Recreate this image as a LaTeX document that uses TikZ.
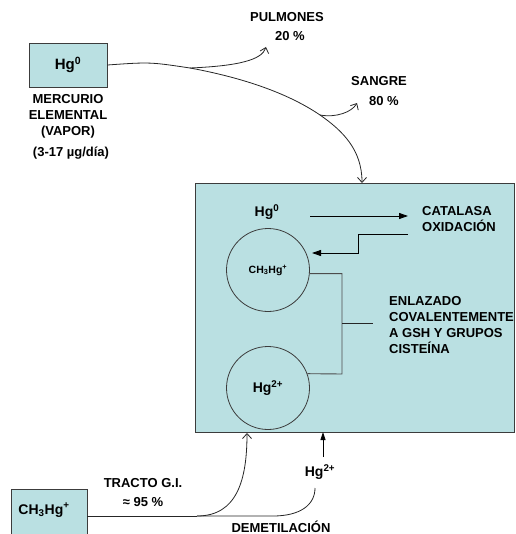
\documentclass[tikz,border=0pt]{standalone}
\usepackage{fontspec}
\setmainfont{Liberation Sans}
\usetikzlibrary{arrows.meta}
\definecolor{boxfill}{RGB}{186,224,226}
\definecolor{edge}{RGB}{60,60,60}
\begin{document}
\begin{tikzpicture}[x=1pt,y=-1pt,
  lbl/.style={font=\fontsize{13}{16}\selectfont\bfseries, inner sep=0pt, align=center},
  bx/.style={draw=edge, fill=boxfill, line width=0.9pt},
  circ/.style={circle, draw=edge, line width=0.8pt, minimum size=83pt, inner sep=0pt},
  ln/.style={line width=0.8pt, draw=black!85},
  openarr/.style={-{Straight Barb[length=5pt,width=9pt]}},
  solidarr/.style={-{Triangle[length=9pt,width=6pt]}},
]
\useasboundingbox (0,0) rectangle (515,534);

% ---- top-left box
\node[bx, minimum width=78pt, minimum height=44pt, font=\fontsize{15}{18}\selectfont\bfseries] (hgz) at (68,65) {Hg\textsuperscript{0}};
\node[lbl] (merc) at (68,116) {MERCURIO\\ELEMENTAL\\(VAPOR)};
\node[lbl] (dose) at (71,153) {(3-17 µg/día)};

% ---- labels top
\node[lbl] (pulm) at (287,17) {PULMONES};
\node[lbl] (pulmp) at (290,36) {20 \%};
\node[lbl] (sang) at (379,81) {SANGRE};
\node[lbl] (sangp) at (384,101) {80 \%};

% ---- main box
\node[bx, minimum width=319pt, minimum height=249pt, anchor=north west, inner sep=0pt] (main) at (195,183) {};

\coordinate (s1) at (190,68);
\coordinate (s2) at (320,115);
\coordinate (pulmtip) at (266,47);
\coordinate (sangtip) at (357,103);
\coordinate (maintop) at (362,183);

\draw[ln] (hgz.east) .. controls (150,62) .. (s1);
\draw[ln, openarr] (s1) .. controls (238,66) and (262,60) .. (pulmtip);
\draw[ln] (s1) .. controls (255,80) and (295,98) .. (s2);
\draw[ln, openarr] (s2) .. controls (343,131) and (362,150) .. (maintop);
\draw[ln, openarr] (s2) .. controls (336,118) and (352,112) .. (sangtip);

% ---- inside main box
\node[font=\fontsize{14}{16}\selectfont\bfseries, inner sep=0pt] (hgin) at (267,212) {Hg\textsuperscript{0}};
\node[lbl, align=left, anchor=west] (cat) at (422,219) {CATALASA\\OXIDACIÓN};
\node[circ, font=\fontsize{10.5}{12}\selectfont\bfseries] (c1) at (268,270) {CH\textsubscript{3}Hg\textsuperscript{+}};
\node[circ, font=\fontsize{14}{16}\selectfont\bfseries] (c2) at (268,388) {Hg\textsuperscript{2+}};
\node[lbl, align=left, anchor=west] (enl) at (389,325) {ENLAZADO\\COVALENTEMENTE\\A GSH Y GRUPOS\\CISTEÍNA};

\coordinate (a1s) at (310,216);
\coordinate (a1e) at (408,216);
\coordinate (a2s) at (408,234);
\coordinate (a2e) at (312,253);
\draw[line width=0.9pt, solidarr] (a1s) -- (a1e);
\draw[line width=0.9pt, solidarr] (a2s) -- (358,234) -- (358,253) -- (a2e);

\coordinate (bk) at (342,323);
\coordinate (bkend) at (373,323);
\draw[line width=0.9pt, draw=black!70] (c1.-5) -- (342,273.6) -- (342,374) -- (c2.20);
\draw[line width=0.9pt, draw=black!85] (bk) -- (bkend);

% ---- bottom
\node[bx, minimum width=76pt, minimum height=60pt, anchor=north west, inner sep=0pt] (chbox) at (11,489) {};
\node[font=\fontsize{14}{16}\selectfont\bfseries, inner sep=0pt] (chtxt) at (44,510) {CH\textsubscript{3}Hg\textsuperscript{+}};
\node[lbl] (tracto) at (143,483) {TRACTO G.I.};
\node[lbl] (pct) at (143,502) {≈ 95 \%};
\node[lbl] (demet) at (281,527) {DEMETILACIÓN};
\node[font=\fontsize{14}{16}\selectfont\bfseries, inner sep=0pt] (hg2) at (320,472) {Hg\textsuperscript{2+}};

\coordinate (chout) at (87,516);
\coordinate (s3) at (197,516);
\coordinate (s4) at (273,516);
\coordinate (gitip) at (247,433);
\coordinate (demend) at (315,488);
\coordinate (hgarr) at (323,457);
\coordinate (hgtip) at (323,432);

\draw[ln] (chout) -- (s3);
\draw[ln, openarr] (s3) .. controls (237,516) and (247,480) .. (gitip);
\draw[ln] (s3) -- (s4) .. controls (300,516) and (315,505) .. (demend);
\draw[line width=0.9pt, -{Triangle[length=8pt,width=5pt]}] (hgarr) -- (hgtip);
\end{tikzpicture}
\end{document}
